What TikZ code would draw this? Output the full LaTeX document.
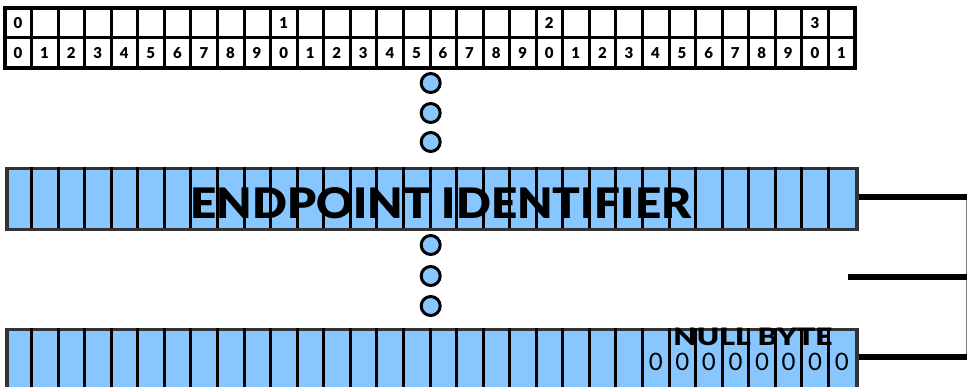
\documentclass[tikz,border=0pt]{standalone}
\usepackage{graphicx}
\usepackage{fontspec}
\IfFontExistsTF{Lato Black}
  {\setmainfont{Lato}[BoldFont={Lato Black}]}
  {\setmainfont{Lato}}
\definecolor{fieldblue}{RGB}{136,198,255}
\tikzset{
  cellline/.style={line width=3pt},
  bitnum/.style={font=\fontsize{15}{15}\selectfont\bfseries, inner sep=0pt},
  field/.style={draw=black!80, line width=3.5pt, fill=fieldblue, inner sep=0pt,
    minimum width=850pt, anchor=north west},
  dot/.style={circle, draw, line width=3pt, fill=fieldblue, minimum size=19pt, inner sep=0pt},
  link/.style={line width=6pt},
}
\begin{document}
\begin{tikzpicture}[x=1pt,y=-1pt]
  \useasboundingbox (0,0) rectangle (967,387);
  % Bit ruler
  \draw[line width=3.5pt] (5,8) rectangle (855,68);
  \draw[cellline] (5,37.5) -- (855,37.5);
  \foreach \i in {1,...,31}
    \draw[cellline] ({5+\i*26.5625},8) -- ({5+\i*26.5625},68);
  \foreach \i/\t in {0/0,10/1,20/2,30/3}
    \node[bitnum] at ({18+\i*26.5625},23) {\t};
  \foreach \i in {0,...,31}{
    \pgfmathtruncatemacro\d{mod(\i,10)}
    \node[bitnum] at ({18+\i*26.5625},53) {\d};
  }
  % Endpoint identifier field
  \node[field, minimum height=61pt] (eid) at (5,167) {};
  \foreach \i in {1,...,31}
    \draw[cellline] ({5+\i*26.5625},167) -- ({5+\i*26.5625},228);
  \node[font=\fontsize{42}{42}\selectfont\bfseries, inner sep=0pt] (eidlabel) at (441,203)
    {\scalebox{1.09}[1]{ENDPOINT IDENTIFIER}};
  % Last field with null byte
  \node[field, minimum height=80pt] (nullrow) at (5,328) {};
  \foreach \i in {1,...,31}
    \draw[cellline] ({5+\i*26.5625},328) -- ({5+\i*26.5625},410);
  \node[font=\fontsize{24}{24}\selectfont\bfseries, inner sep=0pt] (nulllabel) at (753,336.5)
    {\scalebox{1.25}[1]{NULL BYTE}};
  \foreach \i in {24,...,31}
    \node[font=\fontsize{24}{24}\selectfont, inner sep=0pt] at ({18.3+\i*26.5625},362) {0};
  % Dots
  \foreach \n/\y in {1/83,2/113,3/142,4/245,5/276,6/306}
    \node[dot] (d\n) at (430.7,\y) {};
  % Right side
  \coordinate (e1) at (966,197);
  \coordinate (m0) at (848,277);
  \coordinate (m1) at (967,277);
  \coordinate (n1) at (966,357);
  \draw[gray, line width=1pt] (e1) -- (n1);
  \draw[link] (eid.east |- e1) -- ++(112,0);
  \draw[link] (m0) -- (m1);
  \draw[link] (nullrow.east |- n1) -- ++(112,0);
\end{tikzpicture}
\end{document}
